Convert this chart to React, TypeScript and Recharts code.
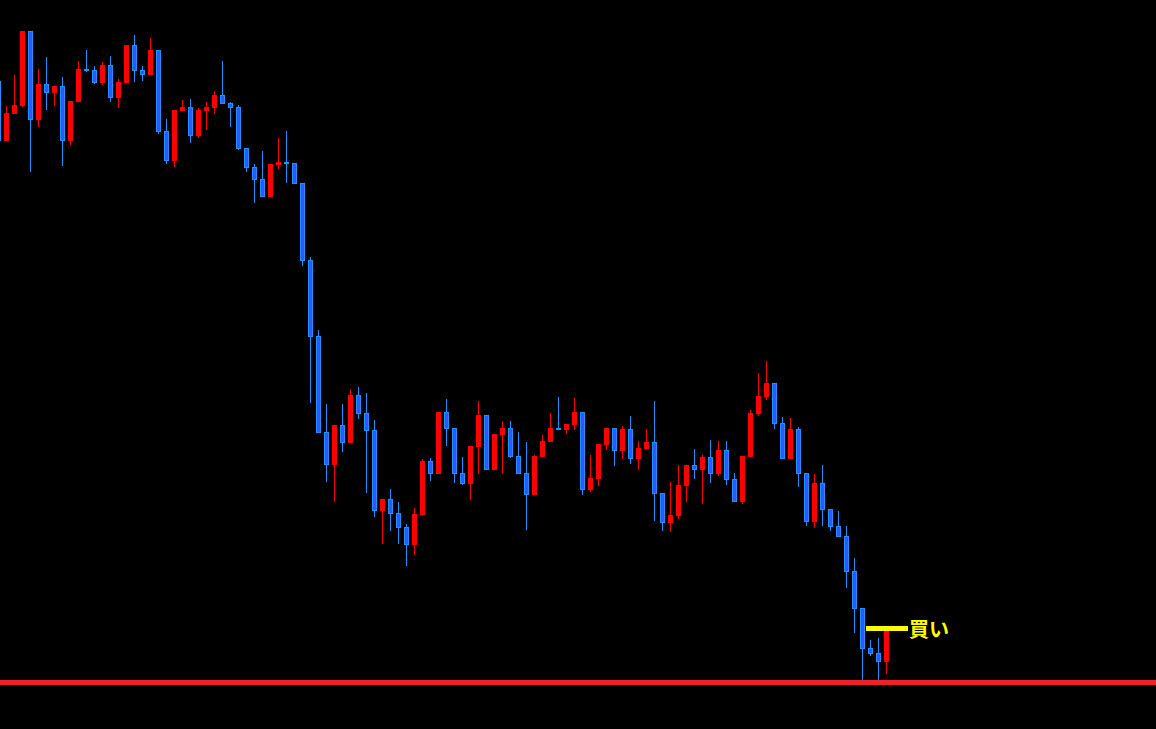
import React from "react";
import { ComposedChart, Bar, XAxis, YAxis, ReferenceLine } from "recharts";

// OHLC, oldest first (first candle is cut off at the left edge)
const opens = [
  619,
  559, 586, 594, 669, 580, 616, 607, 614, 559, 598,
  631, 630, 617, 635, 602, 617, 655, 630, 625, 650,
  569, 539, 589, 593, 564, 589, 592, 605, 597, 593,
  552, 533, 521, 503, 535, 538, 537, 517, 440, 364,
  268, 235, 275, 257, 305, 287, 270, 189, 201, 187,
  173, 155, 185, 239, 226, 288, 272, 227, 216, 253,
  285, 230, 265, 272, 244, 227, 205, 243, 258, 272,
  270, 275, 288, 210, 221, 255, 272, 249, 271, 241,
  251, 258, 207, 177, 184, 214, 235, 230, 243, 226,
  250, 221, 198, 243, 286, 303, 317, 277, 241, 271,
  227, 178, 217, 191, 174, 164, 129, 92, 52, 47, 38,
];
const highs = [
  622,
  594, 625, 669, 669, 631, 643, 614, 623, 599, 639,
  650, 634, 638, 644, 621, 655, 665, 634, 662, 650,
  581, 590, 600, 601, 592, 598, 609, 639, 598, 595,
  552, 536, 549, 536, 562, 569, 537, 517, 443, 370,
  296, 275, 296, 311, 313, 307, 280, 201, 211, 198,
  176, 192, 241, 242, 288, 301, 272, 243, 254, 299,
  285, 266, 279, 279, 268, 258, 245, 265, 287, 303,
  276, 302, 288, 245, 256, 272, 272, 274, 284, 259,
  271, 299, 207, 218, 235, 235, 251, 245, 260, 259,
  259, 227, 244, 290, 327, 339, 317, 283, 282, 273,
  227, 226, 235, 191, 189, 174, 142, 92, 60, 62, 69,
];
const lows = [
  556,
  559, 586, 593, 528, 573, 590, 594, 534, 555, 598,
  628, 616, 615, 598, 592, 617, 618, 619, 625, 566,
  536, 533, 589, 557, 562, 570, 586, 596, 573, 550,
  528, 497, 503, 503, 531, 517, 516, 434, 297, 267,
  218, 198, 248, 257, 281, 207, 183, 156, 169, 156,
  134, 145, 184, 219, 226, 254, 217, 215, 200, 226,
  230, 230, 227, 242, 226, 170, 205, 243, 258, 270,
  266, 270, 205, 208, 214, 250, 234, 241, 236, 230,
  250, 179, 169, 168, 181, 198, 221, 196, 217, 224,
  215, 198, 196, 243, 284, 300, 271, 241, 241, 213,
  174, 172, 174, 169, 163, 112, 67, 20, 44, 20, 26,
];
const closes = [
  559,
  587, 595, 669, 580, 616, 607, 614, 559, 599, 631,
  629, 617, 635, 602, 618, 655, 629, 625, 650, 568,
  539, 590, 593, 564, 590, 593, 605, 596, 592, 551,
  532, 520, 503, 536, 538, 536, 516, 439, 363, 267,
  235, 275, 257, 305, 286, 269, 189, 201, 186, 172,
  155, 186, 239, 226, 288, 271, 226, 216, 254, 285,
  230, 266, 272, 243, 226, 205, 244, 259, 272, 270,
  276, 288, 210, 222, 256, 272, 249, 271, 241, 252,
  258, 206, 177, 185, 215, 235, 230, 243, 226, 250,
  220, 198, 244, 287, 304, 317, 276, 241, 271, 226,
  178, 217, 190, 173, 163, 128, 91, 51, 46, 38, 69,
];

const supportLevel = 17.5;
const entryLevel = 71.5;
const entryLabel = "買い";

const UP = "#FF0000";
const DOWN_EDGE = "#1E90FF";
const DOWN_FILL = "#3355FF";

const candles = opens.map((open, i) => ({
  i,
  open,
  high: highs[i],
  low: lows[i],
  close: closes[i],
}));

function Candle(props: any) {
  const { x, y, width, height, payload } = props;
  const { open, close, high, low } = payload;
  const unit = high > low ? height / (high - low) : 0;
  const yOf = (v: number) => y + (high - v) * unit;
  const cx = x + width / 2;
  const top = yOf(Math.max(open, close));
  const body = Math.max(yOf(Math.min(open, close)) - top, 1);

  if (close > open) {
    return (
      <g shapeRendering="crispEdges">
        <line x1={cx} x2={cx} y1={y} y2={y + height} stroke={UP} />
        <rect x={cx - 2.5} y={top} width={5} height={body} fill={UP} />
      </g>
    );
  }
  return (
    <g shapeRendering="crispEdges">
      <line x1={cx} x2={cx} y1={y} y2={y + height} stroke={DOWN_EDGE} />
      <rect
        x={cx - 2}
        y={top + 0.5}
        width={4}
        height={Math.max(body - 1, 0)}
        fill={DOWN_FILL}
        stroke={DOWN_EDGE}
      />
    </g>
  );
}

export default function App() {
  return (
    <div style={{ width: 1156, height: 729, background: "#000" }}>
      <style>{`body{margin:0;background:#000}`}</style>
      <ComposedChart
        width={1156}
        height={729}
        data={candles}
        margin={{ top: 0, right: 0, bottom: 0, left: 0 }}
      >
        <XAxis
          dataKey="i"
          type="number"
          domain={[0.1875, 144.6875]}
          allowDataOverflow
          hide
        />
        <YAxis type="number" domain={[-29, 700]} allowDataOverflow hide />
        <Bar
          dataKey={(d: any) => [d.low, d.high]}
          barSize={5}
          shape={Candle}
          isAnimationActive={false}
        />
        <ReferenceLine
          y={supportLevel}
          stroke="#EE2028"
          strokeWidth={5}
          ifOverflow="visible"
        />
        <ReferenceLine
          segment={[
            { x: 108.4375, y: entryLevel },
            { x: 113.6875, y: entryLevel },
          ]}
          stroke="#FFFF00"
          strokeWidth={5}
          ifOverflow="visible"
          label={{
            value: entryLabel,
            position: "right",
            offset: 1,
            dy: 1,
            fill: "#FFFF00",
            fontSize: 20,
            fontWeight: 700,
            fontFamily: "'Noto Sans CJK JP', sans-serif",
          }}
        />
      </ComposedChart>
    </div>
  );
}
